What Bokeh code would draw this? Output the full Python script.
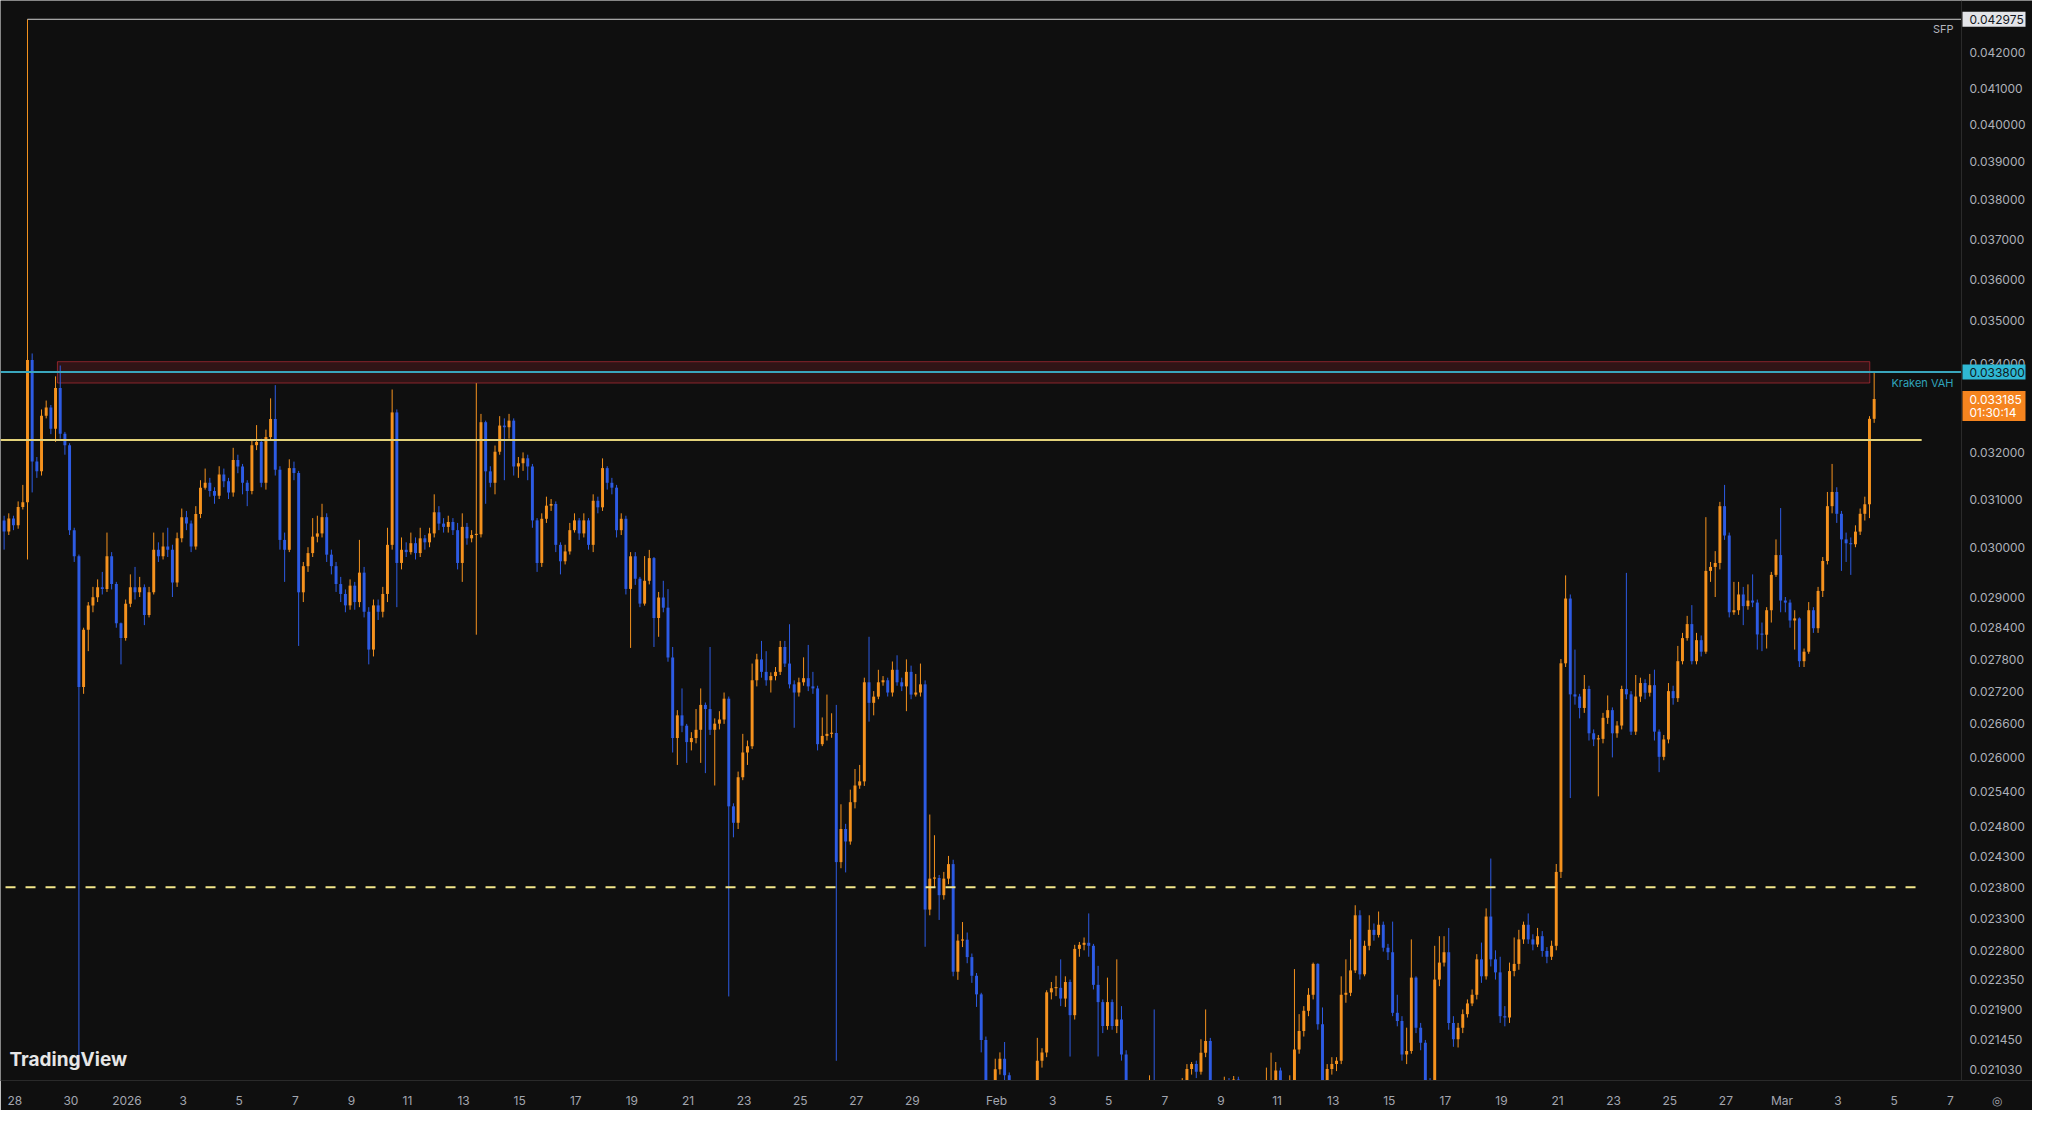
import numpy as np
from bokeh.plotting import figure
from bokeh.models import Range1d, FixedTicker, ColumnDataSource
from bokeh.core.properties import value
from bokeh.embed import file_html
from bokeh.resources import INLINE

# ---------------- data (4h candles, prices in units of 1e-6) ----------------
first_open = 30550
close = [
    30320, 30590, 30450, 30830, 30930, 34080, 31800, 31590, 32810, 32995,
    32517, 33435, 32408, 32158, 30350, 29815, 27275, 28360, 28835, 28995,
    29192, 29160, 29815, 29257, 28485, 28200, 28866, 29192, 29093, 29192,
    28645, 29093, 29947, 29815, 30014, 29947, 29290, 30182, 30620, 30486,
    30014, 30687, 31241, 31345, 31172, 31068, 31520, 31380, 31137, 31836,
    31695, 31345, 31172, 32158, 32229, 31345, 32336, 32737, 31625, 30149,
    29947, 31660, 31555, 29093, 29615, 29880, 30216, 30283, 30620, 29848,
    29615, 29257, 29060, 28835, 29225, 28900, 29485, 28710, 27980, 28835,
    28710, 29060, 30048, 32883, 29680, 29947, 29900, 30082, 29880, 30182,
    30100, 30283, 30722, 30486, 30418, 30520, 30350, 29680, 30418, 30182,
    30250, 30265, 32665, 31590, 31345, 32015, 32590, 32553, 32700, 31695,
    31765, 31872, 31695, 30553, 29680, 30586, 30860, 30895, 30048, 29714,
    29914, 30350, 30553, 30283, 30553, 30048, 30964, 30826, 31660, 31345,
    31241, 30350, 30586, 29160, 29815, 29363, 28870, 29322, 29778, 28588,
    28990, 28790, 27830, 26345, 26755, 26567, 26272, 26345, 26493, 26946,
    26870, 26493, 26604, 26679, 27060, 25148, 24868, 25651, 26087, 26198,
    27402, 27794, 27559, 27402, 27480, 27559, 28030, 27715, 27326, 27174,
    27364, 27441, 27288, 27250, 26235, 26383, 26420, 26435, 24211, 24763,
    24553, 25219, 25507, 25579, 27364, 26984, 27098, 27364, 27402, 27174,
    27598, 27364, 27288, 27559, 27136, 27174, 27326, 23441, 23940, 23950,
    23672, 23940, 24178, 22470, 22951, 22965, 22695, 22408, 22126, 21451,
    20700, 20500, 21025, 21178, 20940, 20600, 20400, 20300, 20450, 20350,
    20500, 21148, 21269, 22157, 22219, 22225, 22063, 22313, 21815, 22822,
    22885, 22917, 22870, 22270, 22010, 21655, 22010, 21655, 21750, 21240,
    20750, 20600, 20700, 20500, 20650, 20800, 20600, 20450, 20550, 20400,
    20600, 20700, 20750, 21030, 21100, 20990, 21265, 21435, 20800, 20650,
    20550, 20850, 20800, 20880, 20820, 20600, 20500, 20550, 20450, 20600,
    20750, 20820, 21010, 20800, 20700, 20750, 21310, 21580, 21880, 22120,
    22590, 21680, 20800, 21030, 21100, 21150, 22120, 22150, 22490, 23350,
    22430, 22870, 23120, 23040, 23200, 22840, 22770, 21850, 21730, 21240,
    21290, 22380, 21630, 21410, 20800, 20600, 22350, 22610, 22770, 21700,
    21460, 21630, 21830, 21990, 22120, 22660, 22400, 23330, 22660, 22460,
    21800, 21780, 22480, 22590, 22970, 23200, 22970, 22890, 23020, 22790,
    22700, 22870, 24050, 27720, 28970, 27140, 27100, 26890, 27240, 26430,
    26320, 26330, 26710, 26850, 26430, 26570, 27240, 27140, 26460, 27100,
    27350, 27170, 27310, 26460, 26010, 26320, 27200, 27070, 27760, 28200,
    28470, 27760, 28160, 27940, 29520, 29600, 29680, 30850, 30240, 28700,
    28740, 29050, 28820, 28930, 28890, 28270, 28265, 28740, 29440, 29840,
    28930, 28890, 28540, 28580, 27760, 27940, 28740, 28390, 29120, 29720,
    30850, 31150, 30690, 30160, 30080, 30060, 30320, 30690, 30890, 32740,
    33185,
]
high = [
    30650, 30700, 30650, 30950, 31300, 42975, 34230, 31900, 32950, 33150,
    33050, 33700, 33950, 32450, 32200, 30400, 29850, 28400, 28900, 29200,
    29350, 29500, 30300, 29900, 29300, 28500, 28950, 29450, 29600, 29400,
    29250, 29200, 30300, 30100, 30300, 30400, 30050, 30300, 30800, 30750,
    30550, 30850, 31400, 31650, 31450, 31250, 31700, 31650, 31450, 32100,
    31950, 31750, 31400, 32250, 32600, 32300, 32500, 33200, 33500, 31700,
    30300, 31850, 31800, 31600, 29700, 30000, 30600, 30650, 30900, 30700,
    29950, 29700, 29400, 29150, 29350, 29300, 30150, 29600, 28800, 28950,
    28950, 29200, 30400, 33400, 32950, 30200, 30100, 30300, 30200, 30400,
    30250, 30400, 31100, 30850, 30600, 30650, 30600, 30500, 30700, 30500,
    30350, 33545, 32850, 32700, 31700, 32150, 32800, 32750, 32850, 32750,
    31900, 32000, 31950, 31750, 30600, 30700, 31050, 31000, 30950, 30100,
    30050, 30500, 30700, 30600, 30700, 30600, 31100, 31050, 31870, 31700,
    31450, 31300, 30700, 30650, 29900, 29900, 29400, 29819, 29945, 29800,
    29100, 29322, 29156, 28030, 26850, 27250, 26600, 26450, 26870, 27250,
    26990, 28030, 26700, 26831, 27174, 27100, 25200, 25750, 26420, 26300,
    27715, 27900, 28146, 27950, 27550, 27650, 28146, 28146, 28467, 27400,
    27450, 27833, 28069, 27559, 27300, 26717, 27136, 26793, 26946, 25183,
    24850, 25435, 25795, 25867, 27450, 28225, 27200, 27598, 27480, 27450,
    27754, 27872, 27450, 27794, 27676, 27520, 27715, 27400, 25008, 24658,
    24000, 24050, 24313, 24250, 23050, 23243, 23078, 22750, 22450, 22150,
    21500, 20800, 21178, 21269, 21420, 20980, 20700, 20550, 20600, 20600,
    20650, 21481, 21330, 22188, 22313, 22408, 22660, 22400, 22350, 22885,
    22930, 23000, 23380, 22900, 22560, 22050, 22380, 22050, 22660, 21950,
    21300, 20800, 20850, 20750, 20800, 20940, 21900, 20700, 20650, 20600,
    20700, 20800, 20900, 21100, 21130, 21150, 21460, 21900, 21480, 20850,
    20700, 20920, 20900, 20930, 20920, 20850, 20700, 20650, 20600, 20700,
    21050, 21265, 21130, 21050, 20850, 20940, 22510, 21830, 21950, 22220,
    22610, 22600, 21930, 21100, 21200, 21200, 22400, 22660, 22970, 23510,
    23430, 22950, 23350, 23220, 23410, 23250, 22900, 23250, 22120, 21800,
    21630, 22970, 22400, 21700, 21450, 20900, 22870, 23020, 23020, 23150,
    21800, 21700, 21900, 22050, 22200, 22740, 22920, 23460, 24270, 22800,
    22700, 21950, 22610, 23000, 23120, 23250, 23380, 23050, 23150, 23100,
    22850, 22950, 24180, 27800, 29430, 29050, 27980, 27150, 27500, 27300,
    26500, 26400, 26800, 27120, 26900, 26650, 27300, 29480, 27200, 27500,
    27450, 27420, 27520, 27600, 26500, 26400, 27350, 27300, 28050, 28300,
    28630, 28840, 28300, 28250, 30620, 29700, 29920, 30940, 31300, 30300,
    29300, 29300, 29200, 29250, 29450, 28950, 28500, 28800, 29500, 30160,
    30810, 29000, 28950, 28740, 28600, 28000, 28900, 28800, 29200, 29800,
    31150, 31750, 31250, 30750, 30300, 30200, 30450, 30800, 31050, 32800,
    33800,
]
low = [
    29950, 30250, 30350, 30380, 30780, 29750, 31140, 31450, 31500, 32750,
    32400, 32230, 32300, 31950, 30250, 29700, 21050, 27150, 27950, 28700,
    28900, 29050, 29100, 29150, 28400, 27700, 28150, 28800, 28950, 29000,
    28450, 28600, 29050, 29700, 29750, 29800, 29000, 29200, 30100, 30350,
    29900, 29950, 30600, 31200, 31050, 30900, 31000, 31250, 31000, 31050,
    31550, 31100, 30850, 31100, 32050, 31250, 31200, 32250, 31500, 29950,
    29300, 29900, 31400, 28050, 28900, 29500, 29800, 30100, 30200, 29700,
    29450, 29100, 28900, 28700, 28750, 28750, 28800, 28600, 27700, 27850,
    28550, 28600, 28900, 29950, 28800, 29550, 29800, 29850, 29750, 29800,
    29950, 30000, 30200, 30350, 30300, 30300, 30250, 29550, 29300, 30050,
    30100, 28265, 30200, 30900, 31250, 31100, 31950, 31400, 32300, 31500,
    31450, 31600, 31400, 30400, 29500, 29600, 30500, 30750, 29900, 29450,
    29650, 29850, 30300, 30150, 30200, 29950, 29900, 30700, 30750, 31200,
    31100, 30200, 30250, 29050, 28012, 29240, 28800, 28830, 29250, 28030,
    28225, 28700, 27750, 26087, 25867, 26450, 25903, 26124, 26250, 25903,
    25723, 26400, 25507, 26500, 26600, 22095, 24623, 24763, 25600, 25867,
    26150, 27288, 27450, 27300, 27174, 27400, 27500, 27650, 27250, 26530,
    27100, 27300, 27200, 27150, 26124, 26200, 26300, 26350, 21148, 24110,
    24042, 24500, 25113, 25450, 25500, 26641, 26755, 27050, 27300, 27100,
    27100, 27300, 27200, 26831, 27050, 27100, 27100, 22855, 23350, 23800,
    23276, 23600, 23850, 22400, 22346, 22850, 22600, 22300, 21938, 21269,
    20550, 20300, 20400, 20950, 20850, 20450, 20250, 20150, 20200, 20250,
    20300, 20450, 21050, 21200, 22050, 22100, 21950, 21938, 21209, 21750,
    22700, 22800, 22700, 22200, 21210, 21550, 21600, 21600, 21550, 21150,
    20600, 20400, 20500, 20400, 20450, 20600, 20500, 20300, 20350, 20250,
    20350, 20550, 20600, 20700, 20950, 20900, 20950, 21200, 20700, 20500,
    20400, 20500, 20700, 20750, 20700, 20500, 20400, 20400, 20300, 20400,
    20550, 20700, 20750, 20700, 20600, 20650, 20700, 21250, 21500, 21800,
    22050, 21600, 20700, 20750, 20950, 21000, 21100, 22000, 22100, 22450,
    22350, 22400, 22800, 22950, 23000, 22780, 22650, 21800, 21650, 21150,
    21100, 21250, 21550, 21300, 20500, 20400, 20550, 22250, 22550, 21600,
    21350, 21340, 21550, 21780, 21950, 22050, 22300, 22350, 22550, 22350,
    21700, 21650, 21700, 22400, 22500, 22900, 22900, 22800, 22850, 22700,
    22600, 22650, 22800, 23950, 27650, 25290, 26950, 26700, 26800, 26300,
    26200, 25320, 26250, 26600, 26000, 26350, 26500, 27050, 26400, 26400,
    27000, 27050, 27100, 26300, 25740, 25950, 26250, 26950, 27000, 27700,
    28150, 27700, 27700, 27850, 27900, 29300, 29000, 29550, 30150, 28600,
    28650, 28650, 28450, 28750, 28800, 27980, 27950, 28000, 28500, 29400,
    28700, 28700, 28400, 27980, 27650, 27650, 27900, 28300, 28300, 29000,
    29650, 30700, 30500, 29520, 29700, 29440, 30000, 30250, 30550, 30600,
    32650,
]

# horizontal levels
sfp_level = 0.042975
kraken_vah = 0.033800
last_price = 0.033185
last_countdown = "01:30:14"
yellow_level = 0.03227
dashed_level = 0.0238
zone_top = 0.034039
zone_bottom = 0.033548

y_ticks = [0.042, 0.041, 0.040, 0.039, 0.038, 0.037, 0.036, 0.035, 0.034,
           0.032, 0.031, 0.030, 0.029, 0.0284, 0.0278, 0.0272, 0.0266, 0.026,
           0.0254, 0.0248, 0.0243, 0.0238, 0.0233, 0.0228, 0.02235, 0.0219,
           0.02145, 0.02103]
# x in days from Dec 28 00:00
x_tick_days = [0, 2, 4, 6, 8, 10, 12, 14, 16, 18, 20, 22, 24, 26, 28, 30, 32,
               35, 37, 39, 41, 43, 45, 47, 49, 51, 53, 55, 57, 59, 61,
               63, 65, 67, 69]
x_tick_labels = ["28", "30", "2026", "3", "5", "7", "9", "11", "13", "15", "17",
                 "19", "21", "23", "25", "27", "29",
                 "Feb", "3", "5", "7", "9", "11", "13", "15", "17", "19", "21",
                 "23", "25", "27", "Mar", "3", "5", "7"]

# ---------------- geometry / style ----------------
BG = "#0f0f0f"
UP = "#f5921e"
DN = "#2d5be3"
SEP = "#2a2a2a"
FONT = "Inter"
W, H = 2032, 1110
AXIS_W, AXIS_H = 71, 25
PLOT_W, PLOT_H = W - AXIS_W, H - AXIS_H
X0, XP = -0.509, 69.40                 # visible candle area (days)
PX_PER_DAY = PLOT_W / (XP - X0)
X1 = X0 + W / PX_PER_DAY               # frame also holds the price column
Y0, Y1 = 0.020866, 0.043528
PX_PER_LN = PLOT_H / np.log(Y1 / Y0)
first_candle_day = -0.38
candle_step = 1.0 / 6.0


def dx(px):
    return px / PX_PER_DAY


def yshift(y, px):
    return y * np.exp(-px / PX_PER_LN)


n = len(close)
xs = first_candle_day + np.arange(n) * candle_step
c = np.array(close, dtype=float) / 1e6
o = np.concatenate([[first_open], close[:-1]]).astype(float) / 1e6
h = np.maximum(np.array(high, dtype=float) / 1e6, np.maximum(o, c))
l = np.minimum(np.array(low, dtype=float) / 1e6, np.minimum(o, c))
bot = np.minimum(o, c)
top = np.maximum(np.maximum(o, c), bot * 1.0008)
col = np.where(c >= o, UP, DN)

src = ColumnDataSource(dict(x=xs, top=top, bot=bot, high=h, low=l, color=col))

p = figure(width=W, height=H, y_axis_type="log",
           x_range=Range1d(X0, X1), y_range=Range1d(Y0, Y1),
           output_backend="svg", toolbar_location=None, tools="",
           min_border_left=0, min_border_top=0, min_border_right=0,
           min_border_bottom=AXIS_H)
p.background_fill_color = BG
p.border_fill_color = BG
p.outline_line_color = None
p.xgrid.visible = False
p.ygrid.visible = False
p.yaxis.visible = False

# time axis
xa = p.xaxis[0]
icon_x = XP + dx(AXIS_W / 2.0)
xa.ticker = FixedTicker(ticks=x_tick_days + [icon_x])
overrides = {d: lab for d, lab in zip(x_tick_days, x_tick_labels)}
overrides[icon_x] = "\u25ce"
xa.major_label_overrides = overrides
xa.major_tick_line_color = None
xa.minor_tick_line_color = None
xa.axis_line_color = SEP
xa.major_label_text_color = "#a3a6af"
xa.major_label_text_font = FONT
xa.major_label_text_font_size = "12px"
xa.major_label_standoff = 6

# zone rectangle
p.quad(left=[first_candle_day + 11.4 * candle_step], right=[66.13],
       bottom=[zone_bottom], top=[zone_top], fill_color="#f23645", fill_alpha=0.15,
       line_color="#f23645", line_alpha=0.5, line_width=1)

# candles
p.segment(x0="x", y0="low", x1="x", y1="high", line_color="color", line_width=1, source=src)
p.vbar(x="x", width=0.105, top="top", bottom="bot", fill_color="color",
       line_color=None, source=src)

# levels
p.segment(x0=[xs[5]], x1=[XP], y0=[sfp_level], y1=[sfp_level], line_color="#d0d0d0", line_width=1)
p.segment(x0=[X0], x1=[XP], y0=[kraken_vah], y1=[kraken_vah], line_color="#3aa6bd", line_width=2)
p.segment(x0=[X0], x1=[67.98], y0=[yellow_level], y1=[yellow_level], line_color="#e3d27a", line_width=2)
p.segment(x0=[-0.33], x1=[67.84], y0=[dashed_level], y1=[dashed_level], line_color="#f2e68a",
          line_width=2, line_dash="10 10")

# drawing labels
lab_x = XP - dx(8)
p.text(x=[lab_x], y=[yshift(sfp_level, 3)], text=["SFP"], text_align="right",
       text_baseline="top", text_color="#b2b5be", text_font=value(FONT), text_font_size="11px")
p.text(x=[lab_x], y=[yshift(kraken_vah, 4)], text=["Kraken VAH"], text_align="right",
       text_baseline="top", text_color="#2fa3bb", text_font=value(FONT), text_font_size="11px")

# price scale column (inside the frame, right of the separator)
p.segment(x0=[XP], x1=[XP], y0=[Y0], y1=[Y1], line_color=SEP, line_width=1)
tick_x = XP + dx(8)
p.text(x=[tick_x] * len(y_ticks), y=y_ticks, text=["%.6f" % t for t in y_ticks],
       text_align="left", text_baseline="middle", text_color="#aeb1b9",
       text_font=value(FONT), text_font_size="12px")

box_cx = XP + dx(1 + 63 / 2.0)
p.rect(x=[box_cx], y=[sfp_level], width=63, height=15, width_units="screen",
       height_units="screen", fill_color="#e3e4e8", line_color=None)
p.text(x=[tick_x], y=[sfp_level], text=["%.6f" % sfp_level], text_align="left",
       text_baseline="middle", text_color="#131722", text_font=value(FONT), text_font_size="12px")
p.rect(x=[box_cx], y=[kraken_vah], width=63, height=15, width_units="screen",
       height_units="screen", fill_color="#2fb8d4", line_color=None)
p.text(x=[tick_x], y=[kraken_vah], text=["%.6f" % kraken_vah], text_align="left",
       text_baseline="middle", text_color="#0f1a20", text_font=value(FONT), text_font_size="12px")
p.rect(x=[box_cx], y=[yshift(last_price, 7)], width=63, height=30, width_units="screen",
       height_units="screen", fill_color="#f5841f", line_color=None)
p.text(x=[tick_x, tick_x], y=[last_price, yshift(last_price, 14)],
       text=["%.6f" % last_price, last_countdown], text_align="left",
       text_baseline="middle", text_color="#ffffff", text_font=value(FONT), text_font_size="12px")

# logo
p.text(x=[X0 + dx(9)], y=[0.02116], text=["TradingView"], text_align="left",
       text_baseline="middle", text_color="#e6e6e6", text_font=value(FONT),
       text_font_size="19px", text_font_style="bold")

open("out.html", "w").write(file_html(p, INLINE))
